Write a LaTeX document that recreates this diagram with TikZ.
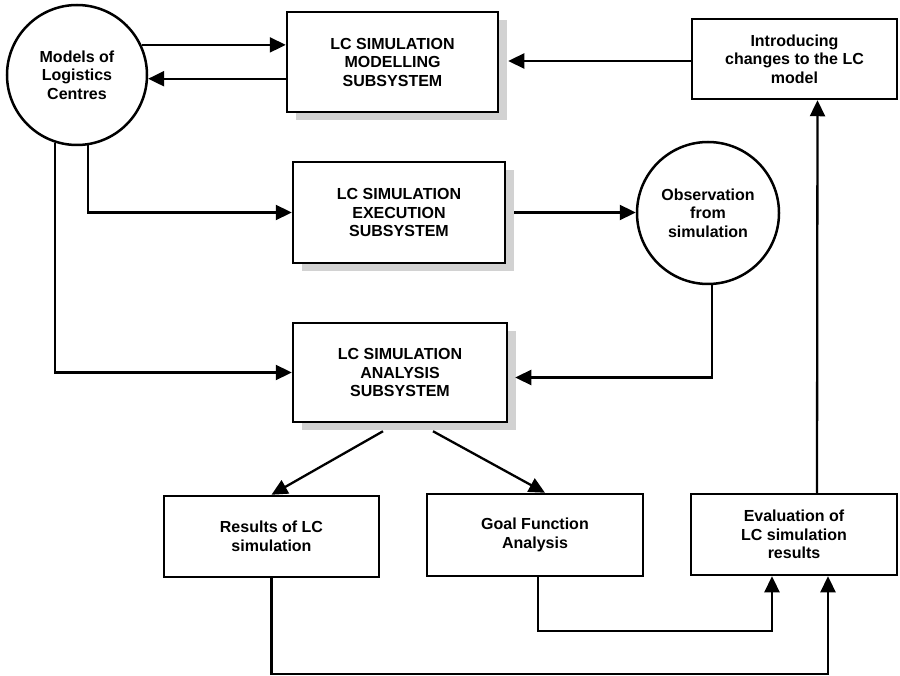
\documentclass[tikz,border=0pt]{standalone}
\usepackage{fontspec}
\setmainfont{Liberation Sans}
\usetikzlibrary{arrows.meta,shadows}
\begin{document}
\begin{tikzpicture}[x=1pt,y=-1pt,
  line width=2.3pt,
  txt/.style={font=\fontsize{16}{18.5}\selectfont\bfseries, align=center, inner sep=0pt},
  box/.style={txt, draw, fill=white, rectangle, line width=2.5pt},
  subsys/.style={box, drop shadow={shadow xshift=9pt, shadow yshift=-8pt, fill=gray!35, opacity=1}},
  circ/.style={txt, draw, fill=white, circle, line width=2.5pt, minimum size=140pt},
  arr/.style={-{Triangle[length=16pt,width=15pt]}},
]
\useasboundingbox (0,0) rectangle (900,676);

\node[circ] (models) at (77,75) {Models of\\Logistics\\Centres};
\node[subsys, minimum width=211pt, minimum height=100pt] (modelling) at (392.5,62) {LC SIMULATION\\MODELLING\\SUBSYSTEM};
\node[box, minimum width=205pt, minimum height=80pt] (intro) at (794.5,59) {Introducing\\changes to the LC\\model};
\node[subsys, minimum width=212pt, minimum height=101pt] (exec) at (399,212.5) {LC SIMULATION\\EXECUTION\\SUBSYSTEM};
\node[circ, minimum size=142pt] (obs) at (708,213) {Observation\\from\\simulation};
\node[subsys, minimum width=214pt, minimum height=99pt] (anal) at (400,372.5) {LC SIMULATION\\ANALYSIS\\SUBSYSTEM};
\node[box, minimum width=215pt, minimum height=81pt] (res) at (271.5,536.5) {Results of LC\\simulation};
\node[box, minimum width=216pt, minimum height=82pt] (goal) at (535,535) {Goal Function\\Analysis};
\node[box, minimum width=206pt, minimum height=81pt] (eval) at (794,534.5) {Evaluation of\\LC simulation\\results};

\coordinate (mE) at ([xshift=9pt]modelling.east);
\coordinate (iW) at ([yshift=-2pt]intro.west);
\coordinate (xE) at ([xshift=8pt]exec.east);
\coordinate (aE) at ([shift={(7,5)}]anal.east);

\draw[arr] (models.25) -- (models.25 -| modelling.west);
\draw[arr] (modelling.west |- models.-3) -- (models.-3);
\draw[arr] (iW) -- (iW -| mE);
\draw[arr] (models.-81) |- (exec.west);
\draw[arr] (models.-108) |- (anal.west);
\draw[arr] (xE) -- (xE -| obs.west);
\draw[arr] (obs.-87) |- (aE);
\draw[arr] ([shift={(-17,8)}]anal.south) -- (res.north);
\draw[arr] ([shift={(33,8)}]anal.south) -- ([xshift=10pt]goal.north);
\draw[arr] ([xshift=3pt]goal.south) -- ++(0,54) -| ([xshift=-22pt]eval.south);
\draw[arr] (res.south) -- ++(0,96) -| ([xshift=34pt]eval.south);
\draw[arr] ([xshift=23pt]eval.north) -- ([xshift=23pt]intro.south);
\end{tikzpicture}
\end{document}
